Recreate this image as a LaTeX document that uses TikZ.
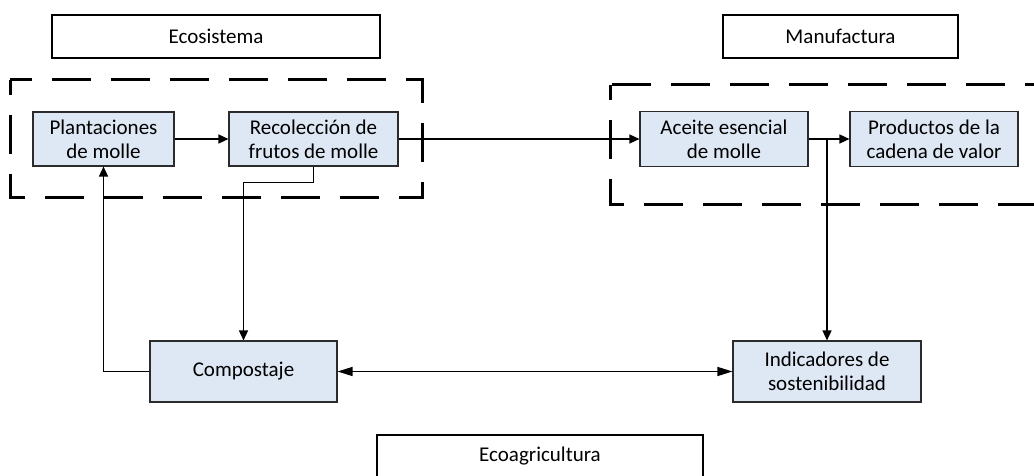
\documentclass[tikz,border=0pt]{standalone}
\usepackage{fontspec}
\setmainfont{Carlito}
\usetikzlibrary{arrows.meta}
\definecolor{boxfill}{HTML}{DEE8F4}
\definecolor{boxline}{HTML}{2B2B2B}
\begin{document}
\begin{tikzpicture}[x=1pt,y=-1pt,
  every node/.style={font=\fontsize{21}{24}\selectfont, align=center, inner sep=0pt},
  proc/.style={draw=boxline, line width=1.1pt, fill=boxfill},
  title/.style={draw=black, line width=2pt, fill=white, minimum height=43pt},
  region/.style={draw=black, line width=3pt, dash pattern=on 39pt off 20pt},
  arr/.style={draw=black, line width=1.4pt, -{Triangle[length=10pt,width=9pt]}},
  darr/.style={draw=black, line width=1.4pt, {Triangle[length=15pt,width=9pt]}-{Triangle[length=15pt,width=9pt]}}]
\useasboundingbox (0,0) rectangle (1034,476);
\clip (0,0) rectangle (1034,476);

% dashed regions
\draw[region, dash phase=24pt] (10,80) rectangle (422,198);
\draw[region, dash phase=24pt] (610,85) rectangle (1060,204);

% region titles
\node[title, minimum width=328pt] (eco) at (216,36.5) {Ecosistema};
\node[title, minimum width=235pt] (man) at (840.5,36.5) {Manufactura};
\node[title, minimum width=326pt] (agr) at (540,456.5) {Ecoagricultura};

% process boxes
\node[proc, minimum width=141pt, minimum height=54pt] (pl) at (103.5,139) {Plantaciones\\de molle};
\node[proc, minimum width=169pt, minimum height=54pt] (rc) at (313.5,139) {Recolección de\\frutos de molle};
\node[proc, minimum width=168pt, minimum height=55pt] (ac) at (724,139) {Aceite esencial\\de molle};
\node[proc, minimum width=168pt, minimum height=55pt] (pd) at (934,139) {Productos de la\\cadena de valor};
\node[proc, minimum width=187pt, minimum height=61pt] (cp) at (243.5,371.5) {Compostaje};
\node[proc, minimum width=188pt, minimum height=61pt] (ind) at (827,371.5) {Indicadores de\\sostenibilidad};

% connectors
\draw[arr] (pl.east) -- (rc.west);
\draw[arr] (rc.east) -- (ac.west);
\draw[arr] (ac.east) -- (pd.west);
\draw[arr] (ac.east -| ind.north) -- (ind.north);
\draw[arr] (rc.south) -- ++(0,16) -| (cp.north);
\draw[arr] (cp.west) -| (pl.south);
\draw[darr] (cp.east) -- (ind.west);
\end{tikzpicture}
\end{document}
